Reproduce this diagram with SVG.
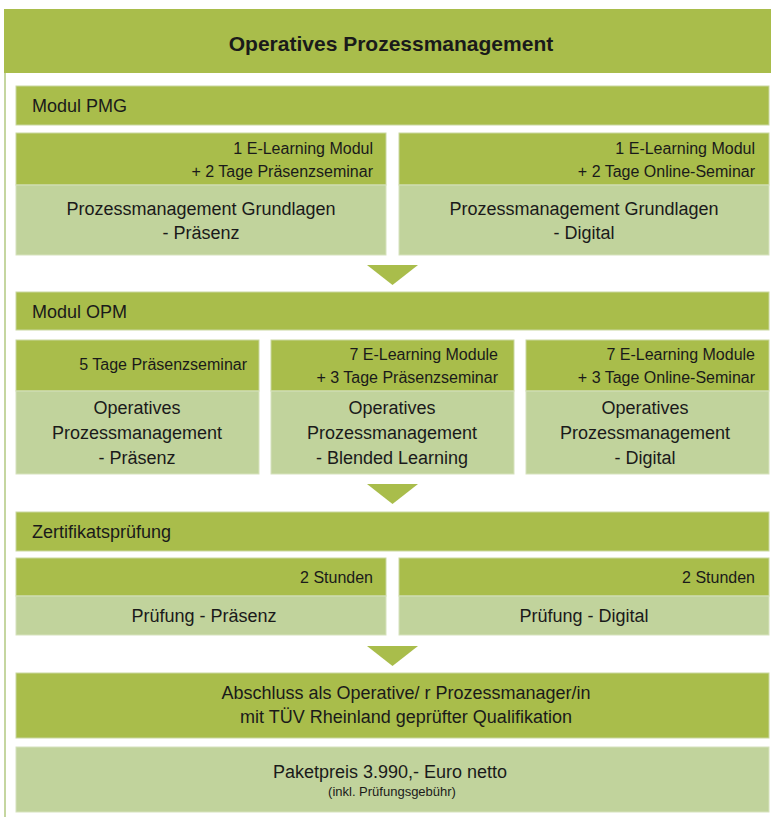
<svg xmlns="http://www.w3.org/2000/svg" width="771" height="817" viewBox="0 0 771 817">
<style>
.dk{fill:#a9bd4b;stroke:#c9d7a0;stroke-width:1}
.lt{fill:#c1d39c;stroke:#d6e2bd;stroke-width:1}
.hdr{fill:#a9bd4b}
text{font-family:"Liberation Sans",Arial,sans-serif;fill:#1a1a1a}
.t{font-size:21px;font-weight:bold;text-anchor:middle}
.bar{font-size:18px}
.m{font-size:18px;text-anchor:middle}
.s{font-size:16px;text-anchor:end}
.xs{font-size:13px;text-anchor:middle}
.arr{fill:#a9bd4b}
</style>
<rect width="771" height="817" fill="#ffffff"/>
<line x1="5" y1="9" x2="5" y2="817" stroke="#c5d6a0" stroke-width="2"/>
<g id="header">
<rect class="hdr" x="4" y="9" width="767" height="64"/>
<text class="t" x="391" y="51">Operatives Prozessmanagement</text>
</g>
<g id="modul-pmg">
<rect class="dk" x="16" y="86" width="753" height="39"/>
<text class="bar" x="32" y="112">Modul PMG</text>
</g>
<g id="pmg-praesenz">
<rect class="dk" x="16" y="133" width="370" height="52"/>
<rect class="lt" x="16" y="185" width="370" height="70"/>
<text class="s" x="373" y="154">1 E-Learning Modul</text>
<text class="s" x="373" y="177">+ 2 Tage Präsenzseminar</text>
<text class="m" x="201" y="215">Prozessmanagement Grundlagen</text>
<text class="m" x="201" y="239">- Präsenz</text>
</g>
<g id="pmg-digital">
<rect class="dk" x="399" y="133" width="370" height="52"/>
<rect class="lt" x="399" y="185" width="370" height="70"/>
<text class="s" x="755" y="154">1 E-Learning Modul</text>
<text class="s" x="755" y="177">+ 2 Tage Online-Seminar</text>
<text class="m" x="584" y="215">Prozessmanagement Grundlagen</text>
<text class="m" x="584" y="239">- Digital</text>
</g>
<g id="modul-opm">
<rect class="dk" x="16" y="292" width="753" height="38"/>
<text class="bar" x="32" y="318">Modul OPM</text>
</g>
<g id="opm-praesenz">
<rect class="dk" x="16" y="340" width="243" height="51"/>
<rect class="lt" x="16" y="391" width="243" height="83"/>
<text class="s" x="247" y="370">5 Tage Präsenzseminar</text>
<text class="m" x="137" y="414">Operatives</text>
<text class="m" x="137" y="439">Prozessmanagement</text>
<text class="m" x="137" y="464">- Präsenz</text>
</g>
<g id="opm-blended">
<rect class="dk" x="271" y="340" width="243" height="51"/>
<rect class="lt" x="271" y="391" width="243" height="83"/>
<text class="s" x="498" y="360">7 E-Learning Module</text>
<text class="s" x="498" y="383">+ 3 Tage Präsenzseminar</text>
<text class="m" x="392" y="414">Operatives</text>
<text class="m" x="392" y="439">Prozessmanagement</text>
<text class="m" x="392" y="464">- Blended Learning</text>
</g>
<g id="opm-digital">
<rect class="dk" x="526" y="340" width="243" height="51"/>
<rect class="lt" x="526" y="391" width="243" height="83"/>
<text class="s" x="755" y="360">7 E-Learning Module</text>
<text class="s" x="755" y="383">+ 3 Tage Online-Seminar</text>
<text class="m" x="645" y="414">Operatives</text>
<text class="m" x="645" y="439">Prozessmanagement</text>
<text class="m" x="645" y="464">- Digital</text>
</g>
<g id="zertifikatspruefung">
<rect class="dk" x="16" y="512" width="753" height="39"/>
<text class="bar" x="32" y="538">Zertifikatsprüfung</text>
</g>
<g id="pruefung-praesenz">
<rect class="dk" x="16" y="558" width="370" height="38"/>
<rect class="lt" x="16" y="596" width="370" height="39"/>
<text class="s" x="373" y="583">2 Stunden</text>
<text class="m" x="204" y="622">Prüfung - Präsenz</text>
</g>
<g id="pruefung-digital">
<rect class="dk" x="399" y="558" width="370" height="38"/>
<rect class="lt" x="399" y="596" width="370" height="39"/>
<text class="s" x="755" y="583">2 Stunden</text>
<text class="m" x="584" y="622">Prüfung - Digital</text>
</g>
<g id="abschluss">
<rect class="dk" x="16" y="673" width="753" height="65"/>
<text class="m" x="406" y="699">Abschluss als Operative/ r Prozessmanager/in</text>
<text class="m" x="406" y="723">mit TÜV Rheinland geprüfter Qualifikation</text>
</g>
<g id="paketpreis">
<rect class="lt" x="16" y="747" width="753" height="65"/>
<text class="m" x="390" y="778">Paketpreis 3.990,- Euro netto</text>
<text class="xs" x="392" y="796">(inkl. Prüfungsgebühr)</text>
</g>
<g id="connectors">
<polygon class="arr" points="367,265 418,265 392.5,285"/>
<polygon class="arr" points="367,484 418,484 392.5,504"/>
<polygon class="arr" points="367,646 418,646 392.5,666"/>
</g>
</svg>
